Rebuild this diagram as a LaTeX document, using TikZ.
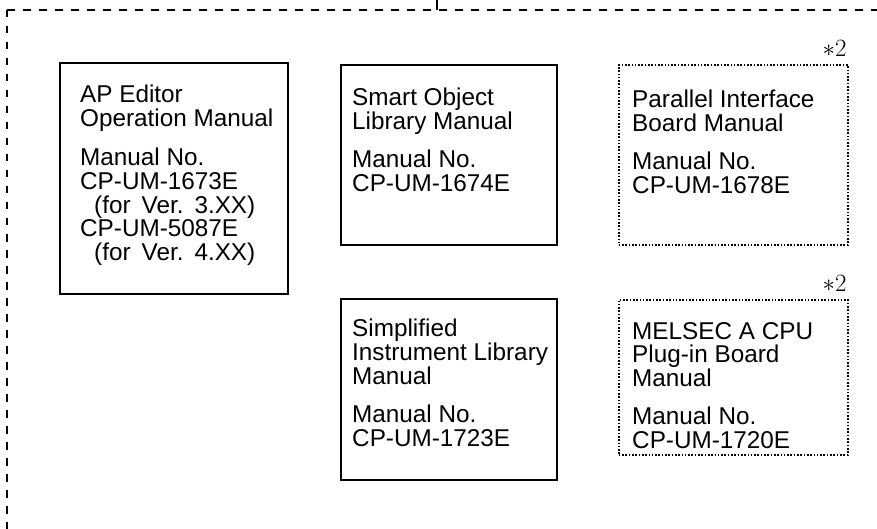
\documentclass[tikz,border=0pt]{standalone}
\usepackage{fontspec}
\setmainfont{Liberation Sans}
\usepackage{tikz}

\tikzset{
    solidbox/.style={draw,line width=1.8pt,anchor=north west,inner sep=0pt},
    dotbox/.style={draw,line width=1.6pt,dash pattern=on 1.6pt off 1.7pt,anchor=north west,inner sep=0pt},
    boxtext/.style={anchor=north west,align=left,inner sep=0pt,font=\fontsize{24.3}{23.8}\selectfont},
    note/.style={anchor=south east,inner sep=0pt,font=\fontsize{25}{25}\selectfont},
    frame/.style={line width=1.8pt,dash pattern=on 7.5pt off 8.5pt}
}

\begin{document}
\begin{tikzpicture}[x=1pt,y=-1pt]
    \useasboundingbox (0,0) rectangle (877,529);
    % outer frame
    \draw[frame] (7,10) -- (7,529);
    \draw[frame] (7,10) -- (877,10);
    \coordinate (entry top) at (437,0);
    \coordinate (entry) at (437,10);
    \draw[line width=1.8pt] (entry top) -- (entry);

    % manual boxes
    \node[solidbox,minimum width=228pt,minimum height=231pt] (editor) at (59,62) {};
    \node[solidbox,minimum width=216pt,minimum height=180pt] (smart) at (340,64) {};
    \node[dotbox,minimum width=229pt,minimum height=180pt] (parallel) at (618,64) {};
    \node[solidbox,minimum width=216pt,minimum height=181pt] (simplified) at (340,298) {};
    \node[dotbox,minimum width=229pt,minimum height=155pt] (melsec) at (618,299) {};

    \node[boxtext] (editor text) at ([shift={(21pt,-23pt)}]editor.north west)
        {AP Editor\\ Operation Manual\\[15pt] Manual No.\\ CP-UM-1673E\\
         \hspace*{14pt}(for\hspace{11pt}Ver.\hspace{11pt}3.XX)\\ CP-UM-5087E\\
         \hspace*{14pt}(for\hspace{11pt}Ver.\hspace{11pt}4.XX)};
    \node[boxtext] (smart text) at ([shift={(12pt,-24pt)}]smart.north west)
        {Smart Object\\ Library Manual\\[14pt] Manual No.\\ CP-UM-1674E};
    \node[boxtext] (parallel text) at ([shift={(14pt,-26pt)}]parallel.north west)
        {Parallel Interface\\ Board Manual\\[14pt] Manual No.\\ CP-UM-1678E};
    \node[boxtext] (simplified text) at ([shift={(12pt,-21pt)}]simplified.north west)
        {Simplified\\ Instrument Library\\ Manual\\[14pt] Manual No.\\ CP-UM-1723E};
    \node[boxtext] (melsec text) at ([shift={(14pt,-23pt)}]melsec.north west)
        {MELSEC A CPU\\ Plug-in Board\\ Manual\\[14pt] Manual No.\\ CP-UM-1720E};

    \node[note] (parallel note) at ([shift={(-2pt,7pt)}]parallel.north east) {$\ast2$};
    \node[note] (melsec note) at ([shift={(-2pt,7pt)}]melsec.north east) {$\ast2$};
\end{tikzpicture}
\end{document}
